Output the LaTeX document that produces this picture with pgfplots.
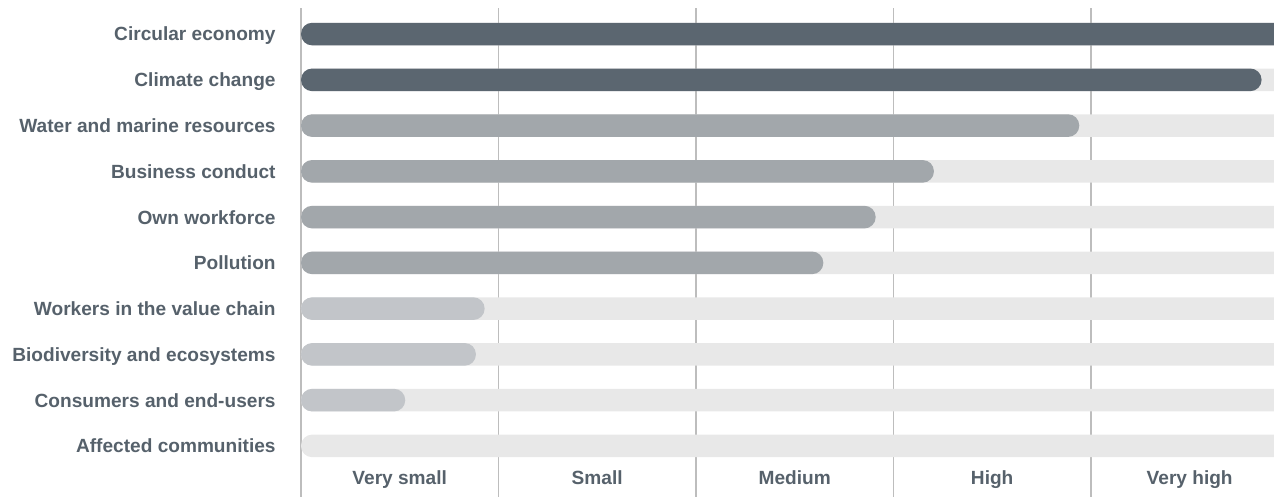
\documentclass[border=0pt]{standalone}
\usepackage{fontspec}
\setmainfont{Liberation Sans}
\usepackage{pgfplots}
\pgfplotsset{compat=1.18}
\definecolor{cdark}{HTML}{5B6670}
\definecolor{cmed}{HTML}{A2A7AB}
\definecolor{clight}{HTML}{C2C5C9}
\definecolor{ctrack}{HTML}{E8E8E8}
\definecolor{cgrid}{HTML}{BDBDBD}
\definecolor{ctext}{HTML}{56616B}
\begin{document}
\begin{tikzpicture}
\begin{axis}[
  name=ax,
  x=98.75pt, y=22.88pt,
  xmin=0, xmax=4.927,
  ymin=-0.57, ymax=10.11,
  y dir=reverse,
  axis line style={draw=none},
  tick style={draw=none},
  major tick length=0pt, minor tick length=0pt,
  xtick={0.5,1.5,2.5,3.5,4.5},
  xticklabels={Very small,Small,Medium,High,Very high},
  minor xtick={0,1,2,3,4},
  xminorgrids=true,
  minor grid style={cgrid, line width=0.7pt},
  ytick={0,1,2,3,4,5,6,7,8,9},
  yticklabels={Circular economy,Climate change,Water and marine resources,Business conduct,Own workforce,Pollution,Workers in the value chain,Biodiversity and ecosystems,Consumers and end-users,Affected communities},
  xticklabel style={font=\fontsize{9.55}{11}\selectfont\bfseries, text=ctext, anchor=base, yshift=6pt},
  yticklabel style={font=\fontsize{9.55}{11}\selectfont\bfseries, text=ctext, anchor=base east, inner sep=0pt, xshift=-12.5pt, yshift=-3.45pt},
  every axis plot/.append style={xbar, bar width=11.3pt, bar shift=0pt, draw=none, rounded corners=5.6pt},
]
\addplot[fill=ctrack] coordinates {(6,0) (6,1) (6,2) (6,3) (6,4) (6,5) (6,6) (6,7) (6,8) (6,9)};
\addplot[fill=cdark] coordinates {(5.2,0) (4.864,1)};
\addplot[fill=cmed] coordinates {(3.941,2) (3.205,3) (2.910,4) (2.645,5)};
\addplot[fill=clight] coordinates {(0.930,6) (0.886,7) (0.528,8)};
\end{axis}
\path ([shift={(-150.5pt,4pt)}]ax.north west);
\end{tikzpicture}
\end{document}
